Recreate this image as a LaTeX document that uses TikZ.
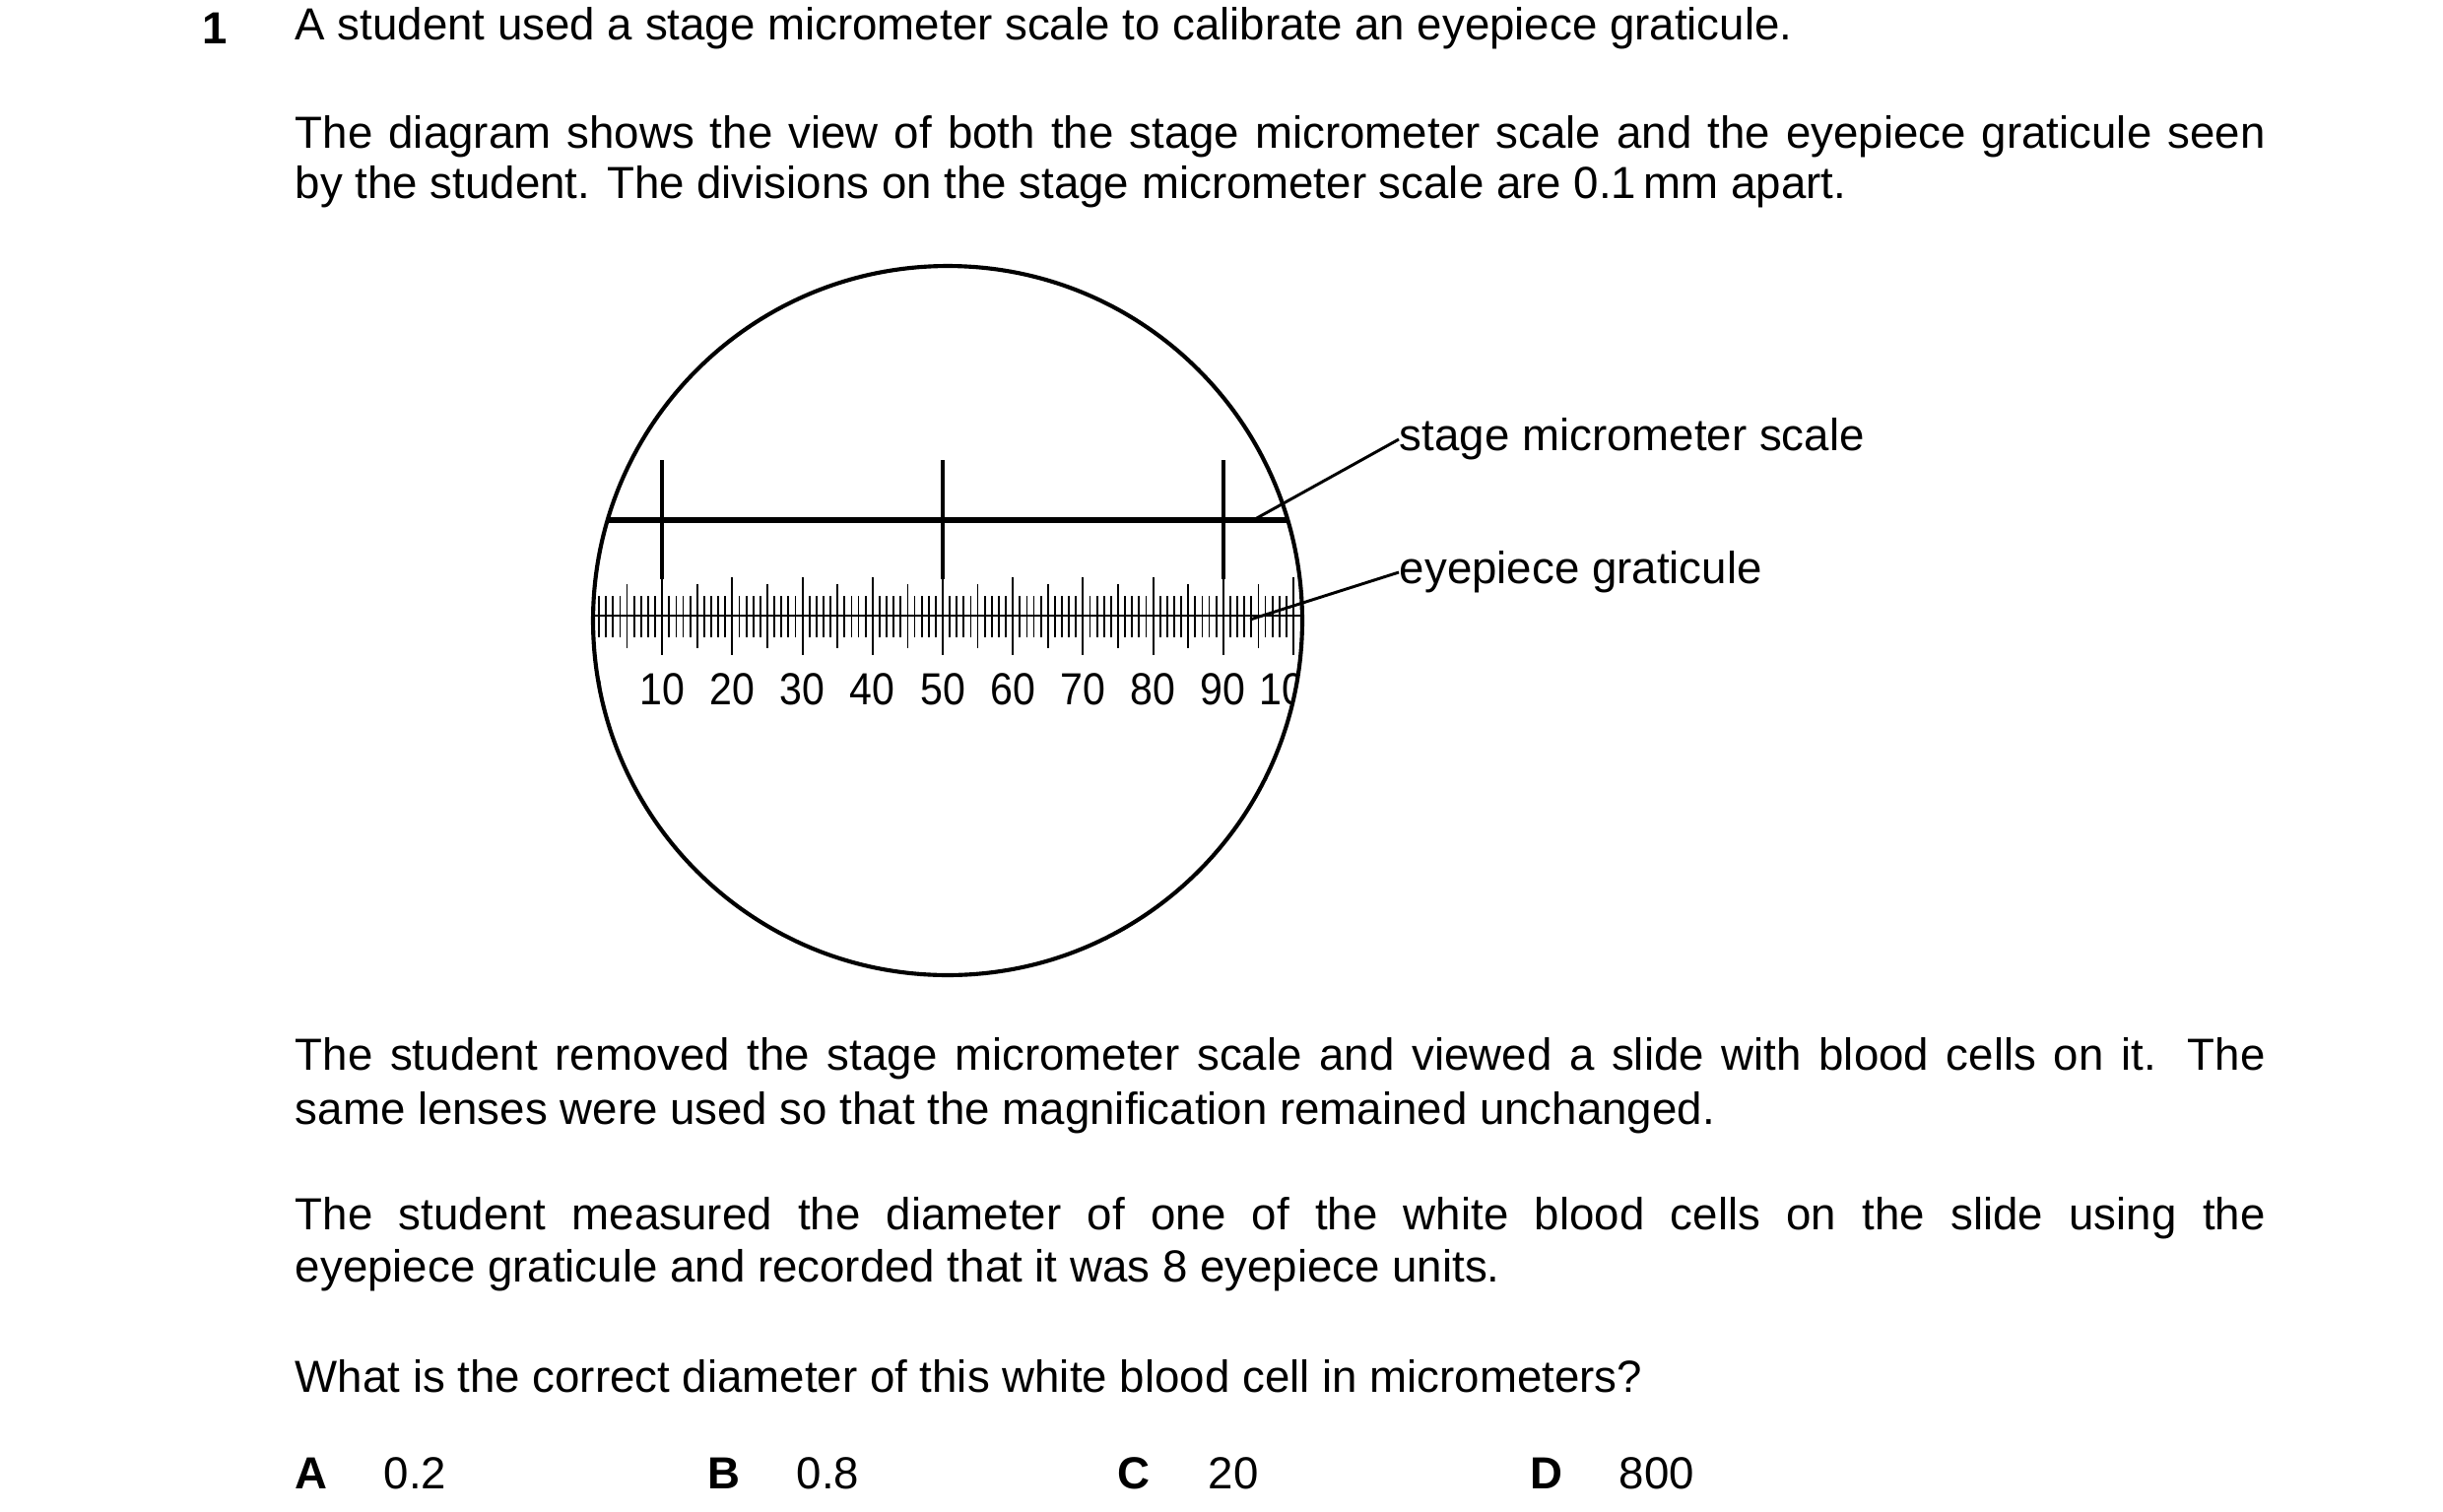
\documentclass[tikz,border=0pt]{standalone}
\usepackage{fontspec}
\setmainfont{Liberation Sans}
\begin{document}
\begin{tikzpicture}[x=0.0847mm,y=-0.0847mm,
    para/.style={anchor=west,inner sep=0pt,font=\fontsize{11}{13}\selectfont},
    lbl/.style={inner sep=0pt,font=\fontsize{11}{13}\selectfont},
    num/.style={inner sep=0pt,font=\fontsize{11}{13}\selectfont,xscale=0.9},
    leader/.style={line width=0.25mm}]
    \useasboundingbox (0,0) rectangle (2480,1534);
    \def\unit{7.12}
    \def\zero{601}

    % question text
    \node[para,font=\bfseries\fontsize{11}{13}\selectfont] (qnum) at (205,29) {1};
    \node[para] (l1) at (299,29) {A student used a stage micrometer scale to calibrate an eyepiece graticule.};
    \node[para] (l2) at (299,139) {\makebox[169.4mm][s]{The diagram shows the view of both the stage micrometer scale and the eyepiece graticule seen}};
    \node[para] (l3) at (299,190) {by the student. The divisions on the stage micrometer scale are 0.1\,mm apart.};

    % field of view
    \node[draw,circle,line width=0.35mm,minimum size=60.98mm,inner sep=0pt] (view) at (962,630) {};
    \begin{scope}
        \clip (962,630) circle (360);
        % stage micrometer
        \draw[line width=0.5mm] (590,528) -- (1340,528);
        \foreach \i in {10,50,90}
            \draw[line width=0.35mm] (\zero+\i*\unit,467) -- (\zero+\i*\unit,588);
        % eyepiece graticule
        \draw[line width=0.2mm] (590,625) -- (1340,625);
        \foreach \i in {0,...,100}{
            \pgfmathtruncatemacro\r{mod(\i,10)}
            \pgfmathtruncatemacro\h{mod(\i,5)}
            \ifnum\r=0
                \draw[line width=0.18mm] (\zero+\i*\unit,586) -- (\zero+\i*\unit,665);
            \else\ifnum\h=0
                \draw[line width=0.15mm] (\zero+\i*\unit,593) -- (\zero+\i*\unit,658);
            \else
                \draw[line width=0.15mm] (\zero+\i*\unit,605) -- (\zero+\i*\unit,647);
            \fi\fi
        }
        \foreach \i in {0,10,...,100}
            \node[num] (n\i) at (\zero+\i*\unit,700) {\i};
    \end{scope}

    % labels
    \node[lbl,anchor=west] (stage) at (1420,446) {stage micrometer scale};
    \node[lbl,anchor=west] (eyep) at (1420,581) {eyepiece graticule};
    \coordinate (sp) at (1274,527);
    \coordinate (ep) at (1269,629);
    \draw[leader] (sp) -- (stage.west);
    \draw[leader] (ep) -- (eyep.west);

    % rest of question
    \node[para] (l4) at (299,1075) {\makebox[169.4mm][s]{The student removed the stage micrometer scale and viewed a slide with blood cells on it. The}};
    \node[para] (l5) at (299,1130) {same lenses were used so that the magnification remained unchanged.};
    \node[para] (l6) at (299,1237) {\makebox[169.4mm][s]{The student measured the diameter of one of the white blood cells on the slide using the}};
    \node[para] (l7) at (299,1290) {eyepiece graticule and recorded that it was 8 eyepiece units.};
    \node[para] (l8) at (299,1397) {What is the correct diameter of this white blood cell in micrometers?};

    % options
    \foreach \k/\x/\v/\y in {A/299/0.2/389,B/718/0.8/808,C/1134/20/1226,D/1553/800/1643}{
        \node[para,font=\bfseries\fontsize{11}{13}\selectfont] (opt\k) at (\x,1496) {\k};
        \node[para] (val\k) at (\y,1496) {\v};
    }
\end{tikzpicture}
\end{document}
